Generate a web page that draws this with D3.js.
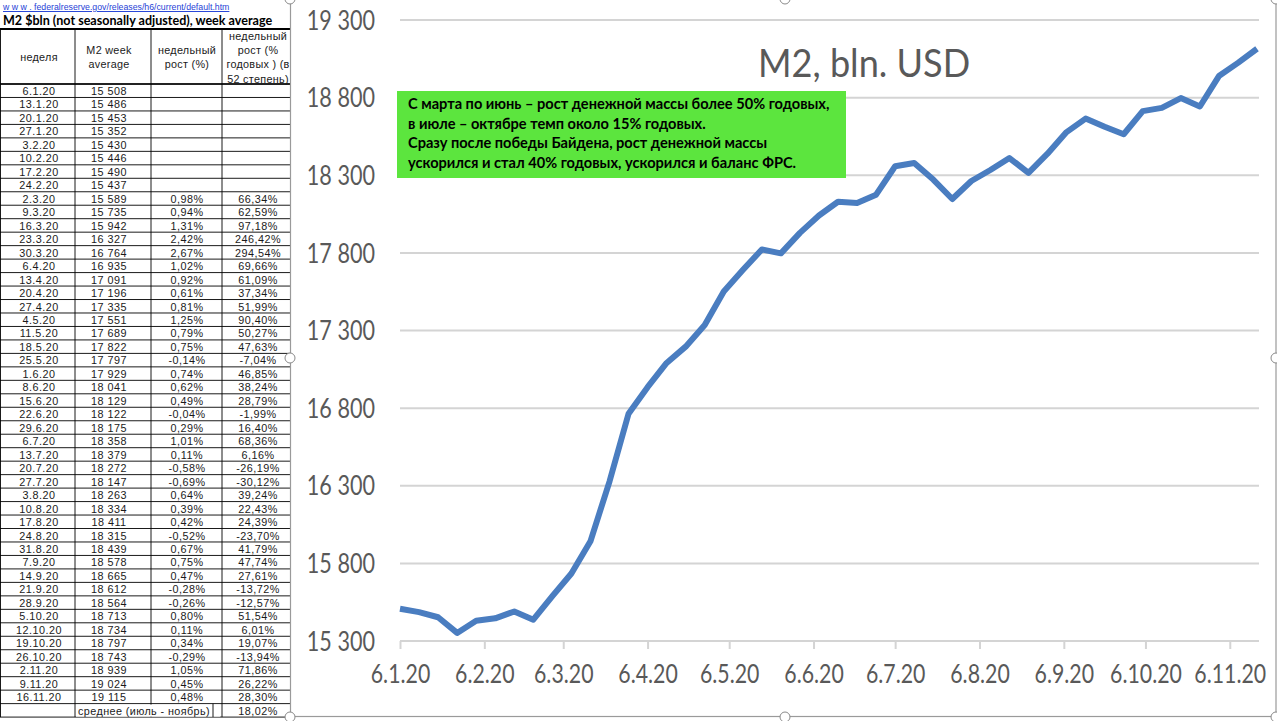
<!DOCTYPE html>
<html><head><meta charset="utf-8">
<script src="https://cdn.jsdelivr.net/npm/d3@7"></script>
<style>body{margin:0;background:#fff}svg{display:block}</style>
</head><body>
<svg id="c" width="1277" height="721"></svg>
<script>
// ---------------- DATA ----------------
const weeks = ["6.1.20","13.1.20","20.1.20","27.1.20","3.2.20","10.2.20","17.2.20","24.2.20",
  "2.3.20","9.3.20","16.3.20","23.3.20","30.3.20","6.4.20","13.4.20","20.4.20","27.4.20",
  "4.5.20","11.5.20","18.5.20","25.5.20","1.6.20","8.6.20","15.6.20","22.6.20","29.6.20",
  "6.7.20","13.7.20","20.7.20","27.7.20","3.8.20","10.8.20","17.8.20","24.8.20","31.8.20",
  "7.9.20","14.9.20","21.9.20","28.9.20","5.10.20","12.10.20","19.10.20","26.10.20",
  "2.11.20","9.11.20","16.11.20"];
const m2 = [15508,15486,15453,15352,15430,15446,15490,15437,
  15589,15735,15942,16327,16764,16935,17091,17196,17335,
  17551,17689,17822,17797,17929,18041,18129,18122,18175,
  18358,18379,18272,18147,18263,18334,18411,18315,18439,
  18578,18665,18612,18564,18713,18734,18797,18743,
  18939,19024,19115];
const weeklyGrowth = [null,null,null,null,null,null,null,null,
  0.98,0.94,1.31,2.42,2.67,1.02,0.92,0.61,0.81,
  1.25,0.79,0.75,-0.14,0.74,0.62,0.49,-0.04,0.29,
  1.01,0.11,-0.58,-0.69,0.64,0.39,0.42,-0.52,0.67,
  0.75,0.47,-0.28,-0.26,0.80,0.11,0.34,-0.29,
  1.05,0.45,0.48];
const annualGrowth = [null,null,null,null,null,null,null,null,
  66.34,62.59,97.18,246.42,294.54,69.66,61.09,37.34,51.99,
  90.40,50.27,47.63,-7.04,46.85,38.24,28.79,-1.99,16.40,
  68.36,6.16,-26.19,-30.12,39.24,22.43,24.39,-23.70,41.79,
  47.74,27.61,-13.72,-12.57,51.54,6.01,19.07,-13.94,
  71.86,26.22,28.30];
const avgLabel = "среднее (июль - ноябрь)";
const avgValue = 18.02;
const xTickLabels = ["6.1.20","6.2.20","6.3.20","6.4.20","6.5.20","6.6.20","6.7.20","6.8.20","6.9.20","6.10.20","6.11.20"];
const yTicks = [15300,15800,16300,16800,17300,17800,18300,18800,19300];
const chartTitle = "M2, bln. USD";
const noteLines = [
  "С марта по июнь – рост денежной массы более 50% годовых,",
  "в июле – октябре темп около 15% годовых.",
  "Сразу после победы Байдена, рост денежной массы",
  "ускорился и стал 40% годовых, ускорился и баланс ФРС."
];
const sourceLink = "w w w . federalreserve.gov/releases/h6/current/default.htm";
const tableTitle = "M2 $bln (not seasonally adjusted), week average";
const tableHeaders = [["неделя"],["M2 week","average"],["недельный","рост (%)"],["недельный","рост (%","годовых ) (в","52 степень)"]];

// ---------------- SETUP ----------------
const svg = d3.select("#c");
const loc = d3.formatLocale({decimal:",", thousands:" ", grouping:[3], currency:["",""], minus:"-"});
const fmtInt = loc.format(",d");
const fmtPct = v => v == null ? "" : loc.format(".2f")(v) + "%";
const parse = d3.timeParse("%d.%m.%y");
const fmtDate = d3.timeFormat("%-d.%-m.%y");
const data = weeks.map((w,i)=>({date:parse(w), v:m2[i]}));

function condense(sel, k){
  sel.each(function(){
    const w = this.getComputedTextLength();
    d3.select(this).attr("textLength", w*k).attr("lengthAdjust","spacingAndGlyphs");
  });
}

// ---------------- TABLE ----------------
const colB = [0.5, 75, 151, 222, 300];
const colC = [39, 109, 187, 258];
const headTop = 29, headBot = 84, rowH = 13.47;
const tbl = svg.append("g").attr("clip-path","url(#tclip)");
svg.append("clipPath").attr("id","tclip").append("rect").attr("x",0).attr("y",0).attr("width",290).attr("height",721);

tbl.append("text").attr("x",3).attr("y",10).text(sourceLink)
  .attr("font-family","Liberation Sans, Arial, sans-serif").attr("font-size",9.5)
  .attr("fill","#1f3fd6").attr("text-decoration","underline").call(condense,0.92);
tbl.append("text").attr("x",3).attr("y",25).text(tableTitle)
  .attr("font-family","Lato, sans-serif").attr("font-weight","bold").attr("font-size",13.5)
  .attr("fill","#000").call(condense,0.93);

const nRows = weeks.length + 1;
const tblBottom = headBot + nRows*rowH;
const hl = d3.range(nRows+1).map(i=>headBot + i*rowH);
tbl.selectAll("line.h").data(hl).join("line")
  .attr("x1",0).attr("x2",300).attr("y1",d=>d).attr("y2",d=>d)
  .attr("stroke","#000").attr("stroke-width",0.9);
tbl.append("line").attr("x1",0).attr("x2",300).attr("y1",headTop).attr("y2",headTop).attr("stroke","#000").attr("stroke-width",2);
tbl.append("line").attr("x1",0).attr("x2",300).attr("y1",headBot).attr("y2",headBot).attr("stroke","#000").attr("stroke-width",1.6);
tbl.selectAll("line.v").data(colB.slice(0,4)).join("line")
  .attr("x1",d=>d).attr("x2",d=>d).attr("y1",headTop).attr("y2",tblBottom)
  .attr("stroke","#000").attr("stroke-width",0.9);

const tf = {"font-family":"Liberation Sans, Arial, sans-serif","font-size":10.8,"fill":"#1a1a1a"};
function applyFont(s){ for (const k in tf) s.attr(k, tf[k]); return s; }
tableHeaders.forEach((lines,ci)=>{
  const n = lines.length, lh = 14.2;
  const cy = (headTop+headBot)/2 + 1;
  lines.forEach((t,li)=>{
    tbl.append("text").attr("x",colC[ci]).attr("y", cy + (li-(n-1)/2)*lh).attr("dy","0.35em")
      .attr("text-anchor","middle").text(t).call(applyFont).attr("letter-spacing",0.3);
  });
});
weeks.forEach((w,i)=>{
  const cy = headBot + i*rowH + rowH/2 + 0.5;
  const vals = [w, fmtInt(m2[i]), fmtPct(weeklyGrowth[i]), fmtPct(annualGrowth[i])];
  vals.forEach((t,ci)=>{
    if(!t) return;
    tbl.append("text").attr("x",colC[ci]).attr("y",cy).attr("dy","0.35em")
      .attr("text-anchor","middle").text(t).call(applyFont).attr("letter-spacing",0.5);
  });
});
{
  const cy = headBot + weeks.length*rowH + rowH/2 + 0.5;
  tbl.append("rect").attr("x",76).attr("y",headBot + weeks.length*rowH+1).attr("width",144).attr("height",rowH-1.5).attr("fill","#fff");
  tbl.append("line").attr("x1",213).attr("x2",213).attr("y1",headBot + weeks.length*rowH).attr("y2",tblBottom).attr("stroke","#000").attr("stroke-width",0.9);
  tbl.append("text").attr("x",144).attr("y",cy).attr("dy","0.35em").attr("text-anchor","middle")
    .text(avgLabel).call(applyFont).attr("letter-spacing",0.4);
  tbl.append("text").attr("x",colC[3]).attr("y",cy).attr("dy","0.35em").attr("text-anchor","middle")
    .text(fmtPct(avgValue)).call(applyFont).attr("letter-spacing",0.5);
}

// ---------------- CHART ----------------
const frame = {x:290.5, y:-2, w:985.5, h:718.5};
svg.append("rect").attr("x",frame.x).attr("y",frame.y).attr("width",frame.w).attr("height",frame.h)
  .attr("fill","#fff").attr("stroke","#9a9a9a").attr("stroke-width",1.2);

const x = d3.scaleTime().domain([parse(weeks[0]), parse(weeks[weeks.length-1])]).range([400, 1257]);
const y = d3.scaleLinear().domain([yTicks[0], yTicks[yTicks.length-1]]).range([641, 20]);
const gridColor = "#d4d4d4", labelColor = "#595959";
const gx0 = 400, gx1 = 1259;

svg.append("g").selectAll("line").data(yTicks).join("line")
  .attr("x1",gx0).attr("x2",gx1).attr("y1",d=>y(d)).attr("y2",d=>y(d))
  .attr("stroke",gridColor).attr("stroke-width",2);

const yl = svg.append("g").selectAll("text").data(yTicks).join("text")
  .attr("x",375).attr("y",d=>y(d)).attr("dy","0.36em").attr("text-anchor","end")
  .attr("font-family","Lato, sans-serif").attr("font-size",27).attr("fill",labelColor)
  .text(d=>fmtInt(d));
condense(yl, 0.8);

const xTicks = xTickLabels.map(parse);
const xAxis = d3.axisBottom(x).tickValues(xTicks).tickFormat(fmtDate).tickSize(8).tickSizeOuter(0);
const gxa = svg.append("g").attr("transform",`translate(0,${y(yTicks[0])})`).call(xAxis);
gxa.select(".domain").remove();
gxa.selectAll(".tick line").attr("stroke",gridColor).attr("stroke-width",2);
gxa.selectAll(".tick text").attr("y",24).attr("dy","0.71em")
  .attr("font-family","Lato, sans-serif").attr("font-size",26).attr("fill",labelColor)
  .attr("transform","scale(0.82,1)");

svg.append("path").datum(data)
  .attr("d", d3.line().x(d=>x(d.date)).y(d=>y(d.v)))
  .attr("fill","none").attr("stroke","#4a7dc0").attr("stroke-width",6)
  .attr("stroke-linejoin","round").attr("stroke-linecap","butt");

svg.append("text").attr("x",758).attr("y",77).text(chartTitle)
  .attr("font-family","Lato, sans-serif").attr("font-size",38).attr("fill",labelColor)
  .call(condense,0.95);

svg.append("rect").attr("x",397).attr("y",91).attr("width",449).attr("height",87).attr("fill","#5ce53e");
svg.append("g").selectAll("text").data(noteLines).join("text")
  .attr("x",408).attr("y",(d,i)=>104 + i*19.6).attr("dy","0.35em")
  .attr("font-family","Lato, sans-serif").attr("font-weight","bold").attr("font-size",14.6).attr("fill","#000")
  .text(d=>d);

const handles = [[290,-1],[785,-1],[1276,-1],[290,358],[1276,358],[290,717],[785,717],[1276,717]];
svg.append("g").selectAll("circle").data(handles).join("circle")
  .attr("cx",d=>d[0]).attr("cy",d=>d[1]).attr("r",5)
  .attr("fill","#fff").attr("stroke","#8a8a8a").attr("stroke-width",1);
</script>
</body></html>
